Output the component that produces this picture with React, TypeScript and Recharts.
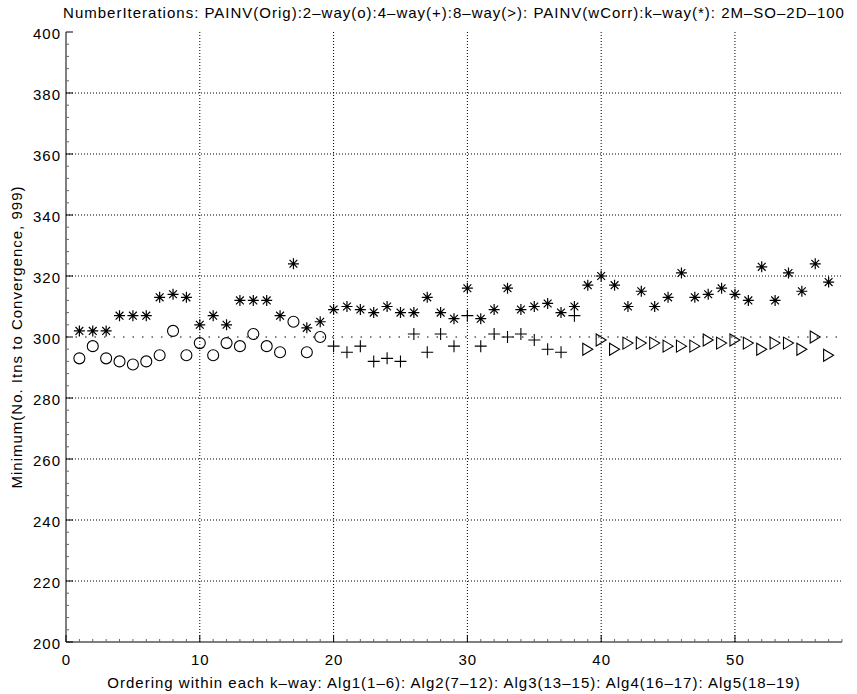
import React from 'react';
import { ScatterChart, Scatter, XAxis, YAxis, ReferenceLine } from 'recharts';

// 2-way (o): orderings 1-19
const circleX = [1, 2, 3, 4, 5, 6, 7, 8, 9, 10, 11, 12, 13, 14, 15, 16, 17, 18, 19];
const circleY = [293, 297, 293, 292, 291, 292, 294, 302, 294, 298, 294, 298, 297, 301, 297, 295, 305, 295, 300];

// 4-way (+): orderings 20-38
const plusX = [20, 21, 22, 23, 24, 25, 26, 27, 28, 29, 30, 31, 32, 33, 34, 35, 36, 37, 38];
const plusY = [297, 295, 297, 292, 293, 292, 301, 295, 301, 297, 307, 297, 301, 300, 301, 299, 296, 295, 307];

// 8-way (>): orderings 39-57
const triX = [39, 40, 41, 42, 43, 44, 45, 46, 47, 48, 49, 50, 51, 52, 53, 54, 55, 56, 57];
const triY = [296, 299, 296, 298, 298, 298, 297, 297, 297, 299, 298, 299, 298, 296, 298, 298, 296, 300, 294];

// k-way wCorr (*): all orderings
const starX = [...circleX, ...plusX, ...triX];
const starY = [
  302, 302, 302, 307, 307, 307, 313, 314, 313, 304, 307, 304, 312, 312, 312, 307, 324, 303, 305,
  309, 310, 309, 308, 310, 308, 308, 313, 308, 306, 316, 306, 309, 316, 309, 310, 311, 308, 310,
  317, 320, 317, 310, 315, 310, 313, 321, 313, 314, 316, 314, 312, 323, 312, 321, 315, 324, 318,
];

const xDomain: [number, number] = [0, 58];
const yDomain: [number, number] = [200, 400];
const xGrid = [10, 20, 30, 40, 50];
const yGrid = [220, 240, 260, 280, 320, 340, 360, 380];
const refLevel = 300;

// minor ticks every 1 on x, every 4 on y; labels only on the majors
const xTicks = Array.from({ length: 59 }, (_, i) => i);
const yTicks = Array.from({ length: 51 }, (_, i) => 200 + i * 4);

const titleText =
  'NumberIterations: PAINV(Orig):2\u2013way(o):4\u2013way(+):8\u2013way(>): PAINV(wCorr):k\u2013way(*): 2M\u2013SO\u20132D\u2013100';
const xLabel =
  'Ordering within each k\u2013way: Alg1(1\u20136): Alg2(7\u201312): Alg3(13\u201315): Alg4(16\u201317): Alg5(18\u201319)';
const yLabel = 'Minimum(No. Itns to Convergence, 999)';

const font = "'Liberation Sans', Arial, Helvetica, sans-serif";
const fontSize = 15;
const spacing = 1;

const toPoints = (xs: number[], ys: number[]) => xs.map((x, i) => ({ x, y: ys[i] }));

const BottomTick = (props: any) => {
  const { x, y, payload } = props;
  const major = payload.value % 10 === 0;
  return (
    <g>
      <line x1={x} x2={x} y1={y} y2={y - (major ? 7 : 3)} stroke={major ? '#000' : '#666'} />
      {major && (
        <text
          x={x + spacing / 2}
          y={y + 17}
          textAnchor="middle"
          dominantBaseline="central"
          fontSize={fontSize}
          fontFamily={font}
          fill="#000"
          style={{ letterSpacing: spacing }}
        >
          {payload.value}
        </text>
      )}
    </g>
  );
};

const TopTick = (props: any) => {
  const { x, y, payload } = props;
  const major = payload.value % 10 === 0;
  return <line x1={x} x2={x} y1={y} y2={y + (major ? 7 : 3)} stroke={major ? '#000' : '#666'} />;
};

const LeftTick = (props: any) => {
  const { x, y, payload } = props;
  const major = payload.value % 20 === 0;
  return (
    <g>
      <line x1={x} x2={x + (major ? 7 : 3)} y1={y} y2={y} stroke={major ? '#000' : '#666'} />
      {major && (
        <text
          x={x - 5}
          y={y + 1}
          textAnchor="end"
          dominantBaseline="central"
          fontSize={fontSize}
          fontFamily={font}
          fill="#000"
          style={{ letterSpacing: spacing }}
        >
          {payload.value}
        </text>
      )}
    </g>
  );
};

const RightTick = (props: any) => {
  const { x, y, payload } = props;
  const major = payload.value % 20 === 0;
  return <line x1={x} x2={x - (major ? 7 : 3)} y1={y} y2={y} stroke={major ? '#000' : '#666'} />;
};

const CircleMark = ({ cx, cy }: any) => (
  <circle cx={cx} cy={cy} r={5.5} fill="none" stroke="#000" strokeWidth={1.1} />
);

const PlusMark = ({ cx, cy }: any) => (
  <path d={`M${cx - 6},${cy}H${cx + 6}M${cx},${cy - 6}V${cy + 6}`} stroke="#000" strokeWidth={1.1} fill="none" />
);

const StarMark = ({ cx, cy }: any) => {
  const r = 5.5;
  const d = 3.9;
  return (
    <path
      d={`M${cx - r},${cy}H${cx + r}M${cx},${cy - r}V${cy + r}M${cx - d},${cy - d}L${cx + d},${cy + d}M${cx - d},${cy + d}L${cx + d},${cy - d}`}
      stroke="#000"
      strokeWidth={1.2}
      fill="none"
    />
  );
};

const TriMark = ({ cx, cy }: any) => (
  <path d={`M${cx - 5},${cy - 6}L${cx + 5},${cy}L${cx - 5},${cy + 6}Z`} stroke="#000" strokeWidth={1.1} fill="none" />
);

const App: React.FC = () => {
  return (
    <div style={{ position: 'absolute', left: 0, top: 0, width: 857, height: 694, background: '#fff' }}>
      <div
        style={{
          position: 'absolute',
          left: 0,
          top: 4,
          width: 908,
          textAlign: 'center',
          fontFamily: font,
          fontSize,
          letterSpacing: spacing,
          lineHeight: '18px',
          whiteSpace: 'nowrap',
          color: '#000',
        }}
      >
        {titleText}
      </div>
      <ScatterChart width={857} height={694} margin={{ top: 32, right: 15, bottom: 0, left: 6 }}>
        {xGrid.map((v) => (
          <ReferenceLine key={`gx${v}`} x={v} xAxisId="bottom" yAxisId="left" stroke="#000" strokeDasharray="1 2" />
        ))}
        {yGrid.map((v) => (
          <ReferenceLine key={`gy${v}`} y={v} xAxisId="bottom" yAxisId="left" stroke="#000" strokeDasharray="1 2" />
        ))}
        <ReferenceLine y={refLevel} xAxisId="bottom" yAxisId="left" stroke="#000" strokeDasharray="1.5 8" />

        <XAxis
          xAxisId="bottom"
          type="number"
          dataKey="x"
          domain={xDomain}
          ticks={xTicks}
          interval={0}
          allowDataOverflow
          height={52}
          tickSize={0}
          tickMargin={0}
          tickLine={false}
          tick={<BottomTick />}
          axisLine={{ stroke: '#000' }}
          label={{
            value: xLabel,
            position: 'insideBottom',
            offset: 6,
            fontSize,
            fontFamily: font,
            fill: '#000',
            style: { letterSpacing: spacing },
          }}
        />
        <XAxis
          xAxisId="top"
          orientation="top"
          type="number"
          domain={xDomain}
          ticks={xTicks}
          interval={0}
          allowDataOverflow
          height={0}
          tickSize={0}
          tickMargin={0}
          tickLine={false}
          tick={<TopTick />}
          axisLine={{ stroke: '#000' }}
        />
        <YAxis
          yAxisId="left"
          type="number"
          dataKey="y"
          domain={yDomain}
          ticks={yTicks}
          interval={0}
          allowDataOverflow
          width={60}
          tickSize={0}
          tickMargin={0}
          tickLine={false}
          tick={<LeftTick />}
          axisLine={{ stroke: '#000' }}
          label={{
            value: yLabel,
            angle: -90,
            position: 'insideLeft',
            offset: 11,
            fontSize,
            fontFamily: font,
            fill: '#000',
            style: { textAnchor: 'middle', letterSpacing: spacing },
          }}
        />
        <YAxis
          yAxisId="right"
          orientation="right"
          type="number"
          domain={yDomain}
          ticks={yTicks}
          interval={0}
          allowDataOverflow
          width={0}
          tickSize={0}
          tickMargin={0}
          tickLine={false}
          tick={<RightTick />}
          axisLine={{ stroke: '#000' }}
        />

        <Scatter xAxisId="bottom" yAxisId="left" data={toPoints(circleX, circleY)} shape={<CircleMark />} isAnimationActive={false} />
        <Scatter xAxisId="bottom" yAxisId="left" data={toPoints(plusX, plusY)} shape={<PlusMark />} isAnimationActive={false} />
        <Scatter xAxisId="bottom" yAxisId="left" data={toPoints(triX, triY)} shape={<TriMark />} isAnimationActive={false} />
        <Scatter xAxisId="bottom" yAxisId="left" data={toPoints(starX, starY)} shape={<StarMark />} isAnimationActive={false} />
      </ScatterChart>
    </div>
  );
};

export default App;
